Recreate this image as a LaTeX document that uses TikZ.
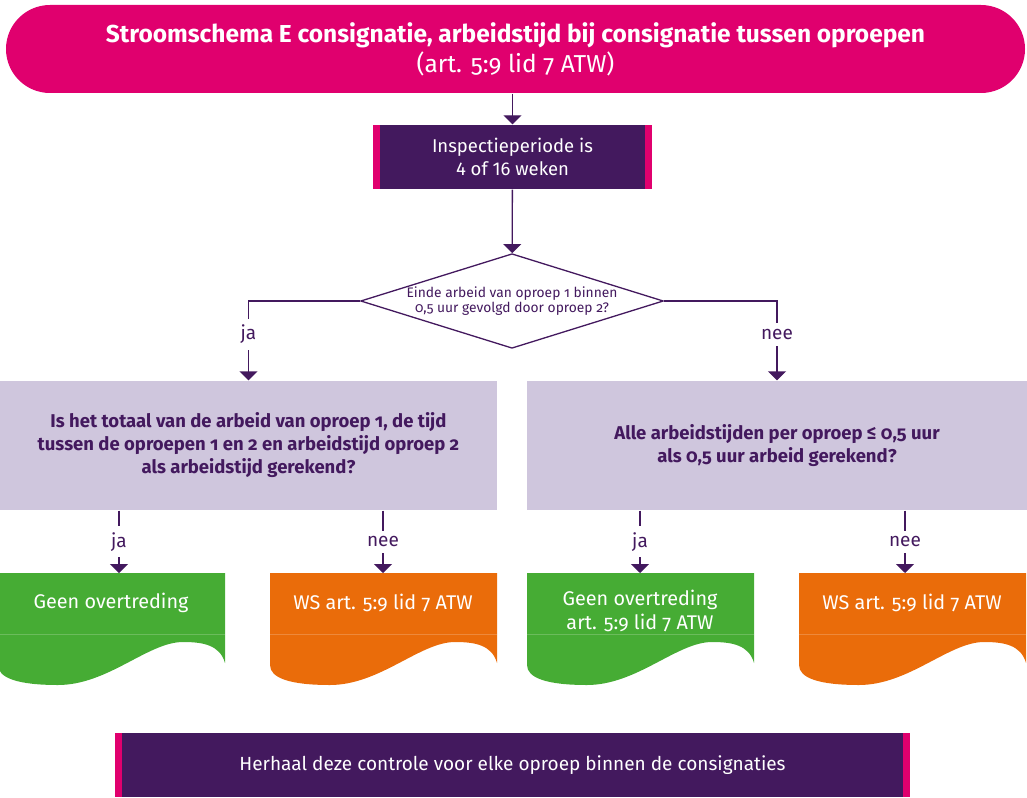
\documentclass[tikz,border=0pt]{standalone}
\usepackage{fontspec}
\setmainfont{Fira Sans}[Numbers=OldStyle]
\usetikzlibrary{shapes.geometric,arrows.meta}
\definecolor{hdrmagenta}{RGB}{224,0,110}
\definecolor{darkpurple}{RGB}{67,25,94}
\definecolor{lavender}{RGB}{207,198,221}
\definecolor{okgreen}{RGB}{70,172,52}
\definecolor{wsorange}{RGB}{234,108,10}

\begin{document}
\begin{tikzpicture}
[x=1pt, y=-1pt, line width=1.3pt,
conn/.style={draw=darkpurple, line width=1.3pt, -{Triangle[width=18pt,length=9pt]}},
lbl/.style={fill=white, text=darkpurple, inner xsep=2pt, inner ysep=6pt, font=\fontsize{19}{22}\selectfont},
header/.style={rectangle, fill=hdrmagenta, text=white, rounded corners=44pt, minimum width=1019pt, minimum height=88pt, align=center, font=\fontsize{24.5}{30}\selectfont},
barbox/.style={rectangle, fill=darkpurple, text=white, align=center, inner sep=0pt,
  path picture={\fill[hdrmagenta] (path picture bounding box.north west) rectangle ([xshift=7pt]path picture bounding box.south west);
                \fill[hdrmagenta] (path picture bounding box.north east) rectangle ([xshift=-7pt]path picture bounding box.south east);}},
decision/.style={diamond, draw=darkpurple, line width=1.3pt, aspect=3.2, inner sep=0pt, minimum width=298pt, minimum height=93pt, align=center, text=darkpurple, font=\fontsize{13.8}{15}\selectfont},
question/.style={rectangle, fill=lavender, text=darkpurple, align=center, inner sep=0pt, minimum height=129pt, font=\bfseries\fontsize{18.5}{23}\selectfont},
doctext/.style={text=white, align=center, inner sep=0pt, font=\fontsize{19.8}{24}\selectfont}]

\useasboundingbox (0,0) rectangle (1027,797);

\node[header] (title) at (515.5,49) {\textbf{Stroomschema E consignatie, arbeidstijd bij consignatie tussen oproepen}\\(art. 5:9 lid 7 ATW)};

\node[barbox, minimum width=279pt, minimum height=64pt, font=\addfontfeatures{Numbers=Lining}\fontsize{18.5}{23}\selectfont] (insp) at (512.5,157) {Inspectieperiode is\\4 of 16 weken};

\node[decision] (dia) at (512,301) {Einde arbeid van oproep 1 binnen\\0,5 uur gevolgd door oproep 2?};

\node[question, minimum width=497pt] (lq) at (248.5,445.5) {Is het totaal van de arbeid van oproep 1, de tijd\\tussen de oproepen 1 en 2 en arbeidstijd oproep 2\\als arbeidstijd gerekend?};
\node[question, minimum width=500pt] (rq) at (777,445.5) {Alle arbeidstijden per oproep ≤ 0,5 uur\\als 0,5 uur arbeid gerekend?};

\foreach \x/\c in {-2/okgreen, 270/wsorange, 527/okgreen, 799/wsorange} {
  \fill[\c] (\x,573) -- (\x+227,573) -- (\x+227,663)
    .. controls (\x+222,645) and (\x+205,642) .. (\x+185,642)
    .. controls (\x+150,642) and (\x+110,685) .. (\x+60,685)
    .. controls (\x+20,685) and (\x,678) .. (\x,665) -- cycle;
  \draw[white, opacity=0.2, line width=0.8pt] (\x,634) -- (\x+227,634);
}

\node[doctext] (ok1) at (111,603) {Geen overtreding};
\node[doctext] (ws1) at (383,603) {WS art. 5:9 lid 7 ATW};
\node[doctext] (ok2) at (640,611) {Geen overtreding\\art. 5:9 lid 7 ATW};
\node[doctext] (ws2) at (912,603) {WS art. 5:9 lid 7 ATW};

\coordinate (a1) at (119,573);
\coordinate (a2) at (383,573);
\coordinate (a3) at (640,573);
\coordinate (a4) at (905,573);

\node[barbox, minimum width=795pt, minimum height=64pt, font=\fontsize{19}{22}\selectfont] (again) at (512.5,765) {Herhaal deze controle voor elke oproep binnen de consignaties};

\draw[conn] (title.south -| insp.north) -- (insp.north);
\draw[conn] (insp) -- (dia);
\draw[conn] (dia.west) -| node[lbl, pos=0.71] {ja} (lq.north);
\draw[conn] (dia.east) -| node[lbl, pos=0.71] {nee} (rq.north);
\draw[conn] (lq.south -| a1) -- node[lbl] {ja} (a1);
\draw[conn] (lq.south -| a2) -- node[lbl] {nee} (a2);
\draw[conn] (rq.south -| a3) -- node[lbl] {ja} (a3);
\draw[conn] (rq.south -| a4) -- node[lbl] {nee} (a4);

\end{tikzpicture}
\end{document}
